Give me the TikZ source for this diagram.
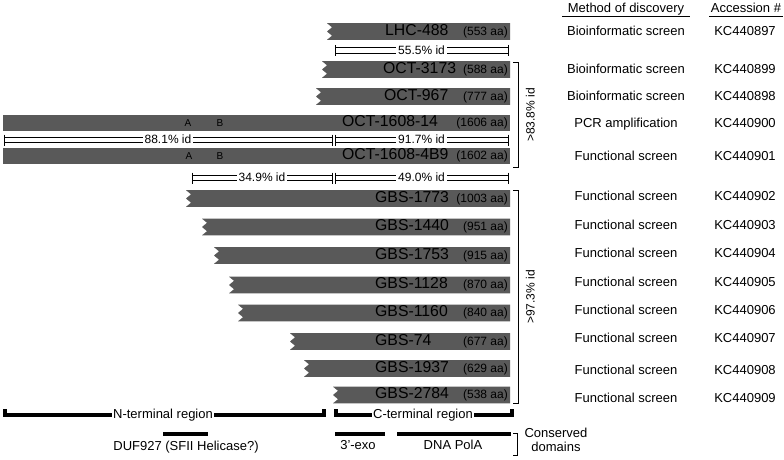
\documentclass[tikz,border=0pt]{standalone}
\usepackage{fontspec}
\setmainfont{Liberation Sans}
\usetikzlibrary{calc}
\begin{document}
\begin{tikzpicture}[x=1pt,y=-1pt,
  barfill/.style={fill=black!65},
  nametxt/.style={anchor=west,inner sep=0pt,text height=0.716em,text depth=0pt,font=\fontsize{15.8}{16}\selectfont},
  aatxt/.style={anchor=east,inner sep=0pt,text height=0.716em,text depth=0pt,font=\fontsize{12}{12}\selectfont},
  abtxt/.style={inner sep=0pt,text height=0.716em,text depth=0pt,font=\fontsize{10}{10}\selectfont},
  coltxt/.style={inner sep=0pt,text height=0.716em,text depth=0pt,font=\fontsize{13}{14}\selectfont},
  idtxt/.style={fill=white,inner sep=2pt,text height=0.716em,text depth=0pt,font=\fontsize{12}{13}\selectfont},
  idline/.style={line width=0.9pt},
  region/.style={line width=3.2pt},
  brk/.style={line width=0.9pt}]
\useasboundingbox (0,0) rectangle (784,460);
% notched bar: #1 name, #2 left x, #3 y, #4 label, #5 label x, #6 aa
\newcommand\notchbar[6]{%
  \fill[barfill] ({#2},{#3-8.3}) -- (510,{#3-8.3}) -- (510,{#3+8.3}) -- ({#2},{#3+8.3})
    -- ({#2+5},{#3+4.2}) -- ({#2},{#3}) -- ({#2+5},{#3-4.2}) -- cycle;
  \node[nametxt,text=black] (#1) at ({#5},{#3}) {#4};
  \node[aatxt] (#1-aa) at (508,{#3}) {#6};}
\newcommand\plainbar[6]{%
  \fill[barfill] ({#2},{#3-8.3}) rectangle (510,{#3+8.3});
  \node[nametxt] (#1) at ({#5},{#3}) {#4};
  \node[aatxt] (#1-aa) at (508,{#3}) {#6};}
% identity line: #1 name, #2 x0, #3 x1, #4 y, #5 text
\newcommand\idbar[5]{%
  \draw[idline] ({#2},{#4-2.7}) -- ({#3},{#4-2.7});
  \draw[idline] ({#2},{#4+2.7}) -- ({#3},{#4+2.7});
  \draw[idline] ({#2},{#4-5.5}) -- ({#2},{#4+5.5});
  \draw[idline] ({#3},{#4-5.5}) -- ({#3},{#4+5.5});
  \node[idtxt] (#1) at ({(#2+#3)/2},{#4}) {#5};}
% right column: #1 name, #2 y, #3 method, #4 accession
\newcommand\rowtxt[4]{%
  \node[coltxt] (m-#1) at (626,{#2}) {#3};
  \node[coltxt] (a-#1) at (745,{#2}) {#4};}

% header
\node[coltxt] (hmeth) at (626,9) {Method of discovery};
\node[coltxt] (hacc) at (746,9) {Accession \#};
\draw[line width=0.9pt] (562,16.7) -- (690,16.7);
\draw[line width=0.9pt] (709,16.7) -- (783,16.7);

% bars
\notchbar{lhc}{327}{31.5}{LHC-488}{385}{(553 aa)}
\idbar{id555}{335}{508}{50.5}{55.5\% id}
\notchbar{oct3173}{322}{69.5}{OCT-3173}{383}{(588 aa)}
\notchbar{oct967}{316}{96.5}{OCT-967}{384}{(777 aa)}
\plainbar{oct14}{3}{123}{OCT-1608-14}{342}{(1606 aa)}
\idbar{id881}{4}{332}{140}{88.1\% id}
\idbar{id917}{335}{508}{140}{91.7\% id}
\plainbar{oct4b9}{3}{156}{OCT-1608-4B9}{342}{(1602 aa)}
\idbar{id349}{192}{332}{178}{34.9\% id}
\idbar{id490}{335}{508}{178}{49.0\% id}
\node[abtxt,text=black] (a1) at (188,123) {A};
\node[abtxt,text=black] (b1) at (220,123) {B};
\node[abtxt,text=black] (a2) at (189,156) {A};
\node[abtxt,text=black] (b2) at (220,156) {B};

\notchbar{g1773}{186}{198.5}{GBS-1773}{375}{(1003 aa)}
\notchbar{g1440}{202}{227}{GBS-1440}{375}{(951 aa)}
\notchbar{g1753}{214}{255.5}{GBS-1753}{375}{(915 aa)}
\notchbar{g1128}{229}{285}{GBS-1128}{375}{(870 aa)}
\notchbar{g1160}{238}{313}{GBS-1160}{375}{(840 aa)}
\notchbar{g74}{290}{341.5}{GBS-74}{375}{(677 aa)}
\notchbar{g1937}{304}{368.5}{GBS-1937}{375}{(629 aa)}
\notchbar{g2784}{333}{395}{GBS-2784}{375}{(538 aa)}

% right brackets
\coordinate (b1t) at (518,62);
\coordinate (b1b) at (518,167);
\draw[brk] ($(b1t)+(-5,0)$) -- (b1t) -- (b1b) -- ($(b1b)+(-5,0)$);
\node[coltxt,font=\fontsize{12}{13}\selectfont,rotate=90] (id838) at (531,115) {>83.8\% id};
\coordinate (b2t) at (518,190);
\coordinate (b2b) at (518,403);
\draw[brk] ($(b2t)+(-5,0)$) -- (b2t) -- (b2b) -- ($(b2b)+(-5,0)$);
\node[coltxt,font=\fontsize{12}{13}\selectfont,rotate=90] (id973) at (531,297) {>97.3\% id};

% right column
\rowtxt{r1}{31.5}{Bioinformatic screen}{KC440897}
\rowtxt{r2}{70}{Bioinformatic screen}{KC440899}
\rowtxt{r3}{97}{Bioinformatic screen}{KC440898}
\rowtxt{r4}{124}{PCR amplification}{KC440900}
\rowtxt{r5}{157}{Functional screen}{KC440901}
\rowtxt{r6}{197}{Functional screen}{KC440902}
\rowtxt{r7}{225.5}{Functional screen}{KC440903}
\rowtxt{r8}{254}{Functional screen}{KC440904}
\rowtxt{r9}{282.5}{Functional screen}{KC440905}
\rowtxt{r10}{311}{Functional screen}{KC440906}
\rowtxt{r11}{339}{Functional screen}{KC440907}
\rowtxt{r12}{371}{Functional screen}{KC440908}
\rowtxt{r13}{399}{Functional screen}{KC440909}

% regions
\coordinate (nl) at (5,415);
\coordinate (nr) at (324,415);
\draw[region] ($(nl)+(0,-6)$) -- (nl) -- (nr) -- ($(nr)+(0,-6)$);
\node[coltxt,fill=white,inner sep=1.5pt] (nterm) at (163,415) {N-terminal region};
\coordinate (cl) at (336,415);
\coordinate (cr) at (512,415);
\draw[region] ($(cl)+(0,-6)$) -- (cl) -- (cr) -- ($(cr)+(0,-6)$);
\node[coltxt,fill=white,inner sep=1.5pt] (cterm) at (423,415) {C-terminal region};

% conserved domains
\draw[region] (163,434) coordinate (d1l) -- (208,434) coordinate (d1r);
\draw[region] (335,434) coordinate (d2l) -- (385,434) coordinate (d2r);
\draw[region] (397,434) coordinate (d3l) -- (511,434) coordinate (d3r);
\node[coltxt] (duf) at (186,447) {DUF927 (SFII Helicase?)};
\node[coltxt] (exo) at (358,446) {3’-exo};
\node[coltxt] (pola) at (453,446) {DNA PolA};
\coordinate (cbt) at (517,433);
\coordinate (cbb) at (517,455);
\draw[brk] ($(cbt)+(-4,0)$) -- (cbt) -- (cbb) -- ($(cbb)+(-4,0)$);
\node[font=\fontsize{13}{13.5}\selectfont,align=center,inner sep=0pt] (cons) at (556,440) {Conserved\\domains};
\end{tikzpicture}
\end{document}
